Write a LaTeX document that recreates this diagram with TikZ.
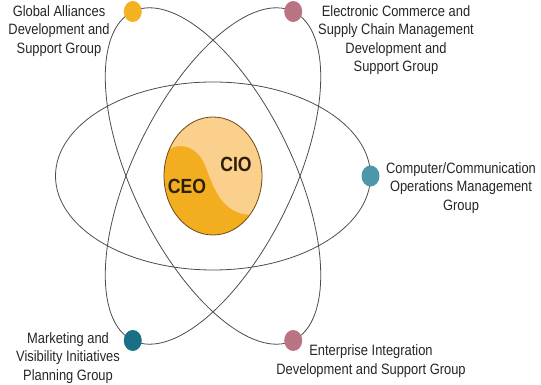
\documentclass[tikz,border=0pt]{standalone}
\usepackage{fontspec}
\setmainfont{Liberation Sans}[FakeStretch=0.86]
\usetikzlibrary{shapes.geometric}

\definecolor{dotgold}{HTML}{F4B120}
\definecolor{dotrose}{HTML}{B97483}
\definecolor{dotteal}{HTML}{4B98AA}
\definecolor{dotdeep}{HTML}{1A6F86}
\definecolor{coredark}{HTML}{F3AE1F}
\definecolor{corelight}{HTML}{FBCF8C}
\definecolor{corerim}{HTML}{6B4A1A}

\tikzset{
  orbit/.style={draw=black!70, line width=0.8pt},
  dot/.style={ellipse, minimum width=18pt, minimum height=21pt, inner sep=0pt},
  grouplbl/.style={align=center, font=\fontsize{15}{18.5}\selectfont, text=black!85},
  rolelbl/.style={font=\fontsize{20.5}{22}\selectfont\bfseries, text=corerim!40!black}
}

\begin{document}
\begin{tikzpicture}[x=1pt,y=1pt]
  \useasboundingbox (0,0) rectangle (541,385);
  \coordinate (O) at (213,209);

  % orbits
  \draw[orbit] (O) ellipse [x radius=157.5, y radius=94];
  \draw[orbit, rotate around={116:(O)}] (O) ellipse [x radius=183, y radius=80];
  \draw[orbit, rotate around={64:(O)}] (O) ellipse [x radius=183, y radius=80];

  % core
  \fill[coredark] (O) ellipse [x radius=49, y radius=59];
  \begin{scope}
    \clip (O) ellipse [x radius=49, y radius=59];
    \fill[corelight] (160,226) .. controls (172,246) and (196,242) .. (205,220)
      .. controls (214,196) and (222,172) .. (250,170)
      .. controls (258,170) and (264,175) .. (270,180)
      -- (270,280) -- (160,280) -- cycle;
  \end{scope}
  \draw[corerim, line width=0.8pt] (O) ellipse [x radius=49, y radius=59];
  \node[rolelbl] (ceo) at (187,198.5) {CEO};
  \node[rolelbl] (cio) at (236,220.5) {CIO};

  % dots on the orbits
  \node[dot, fill=dotgold] (glob) at ([shift={(116:183)}]O) {};
  \node[dot, fill=dotrose] (elec) at ([shift={(64:183)}]O) {};
  \node[dot, fill=dotteal] (comp) at ([shift={(157.5,0)}]O) {};
  \node[dot, fill=dotdeep] (mark) at ([shift={(244:183)}]O) {};
  \node[dot, fill=dotrose] (ent) at ([shift={(-64:183)}]O) {};

  % group labels
  \node[grouplbl] (globtxt) at (59,354) {Global Alliances\\Development and\\Support Group};
  \node[grouplbl] (electxt) at (396,345) {Electronic Commerce and\\Supply Chain Management\\Development and\\Support Group};
  \node[grouplbl] (comptxt) at (461,197) {Computer/Communication\\Operations Management\\Group};
  \node[grouplbl] (marktxt) at (68,27) {Marketing and\\Visibility Initiatives\\Planning Group};
  \node[grouplbl] (enttxt) at (371,24) {Enterprise Integration\\Development and Support Group};
\end{tikzpicture}
\end{document}
